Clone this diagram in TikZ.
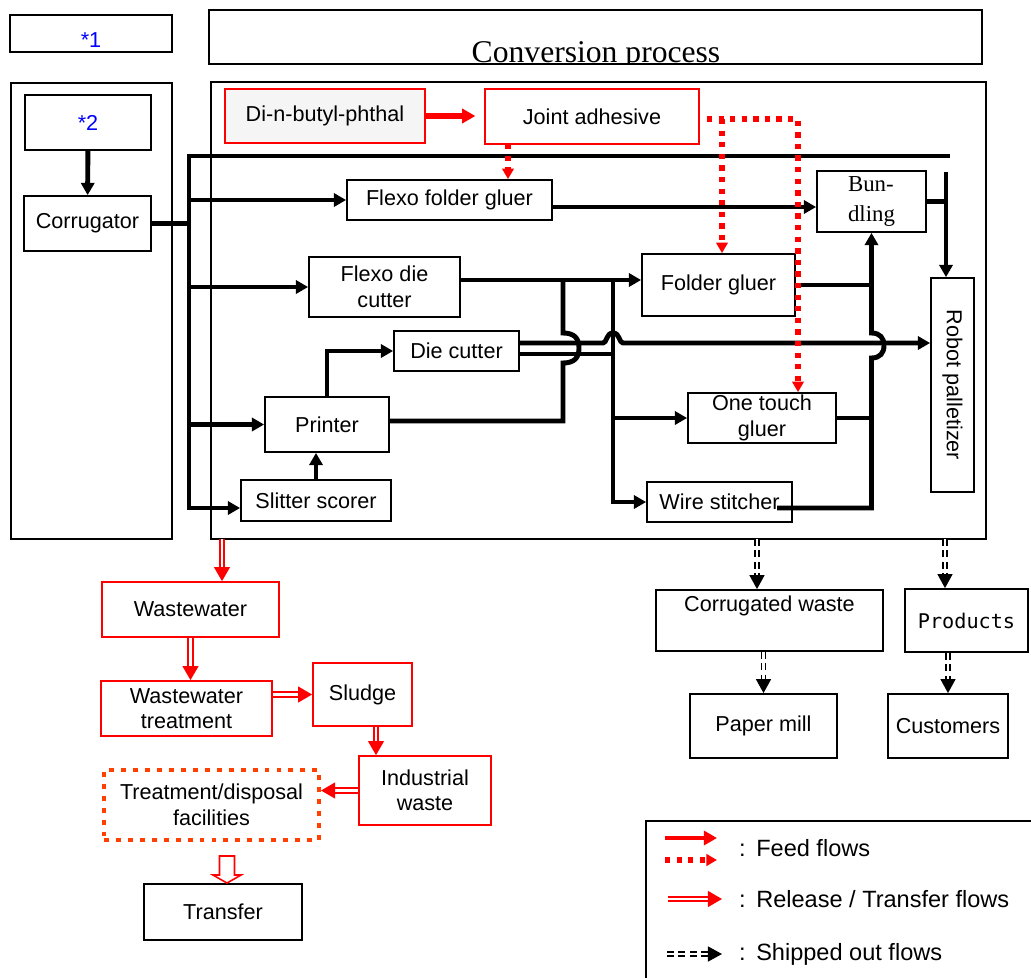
\documentclass[tikz,border=0pt]{standalone}
\usepackage{fontspec}
\setmainfont{Liberation Sans}
\newfontfamily\titlefont{Liberation Serif}
\newfontfamily\prodfont{DejaVu Sans Mono}
\usepackage{graphicx}
\usepackage{xcolor}
\usetikzlibrary{arrows.meta,calc}
\definecolor{flowred}{RGB}{255,0,0}
\definecolor{dotorange}{RGB}{255,64,0}
\definecolor{notegray}{RGB}{245,245,245}
\definecolor{noteblue}{RGB}{0,0,255}

\begin{document}
\begin{tikzpicture}[x=0.02cm, y=-0.02cm,
    sz/.style 2 args={minimum width=#1*0.02cm, minimum height=#2*0.02cm},
    box/.style={draw, line width=1pt, inner sep=0pt, align=center,
        font=\fontsize{12.3}{14.5}\selectfont},
    redbox/.style={box, draw=flowred},
    panel/.style={draw, line width=0.8pt, inner sep=0pt},
    flow/.style={line width=2.8pt},
    flowarrow/.style={flow, -{Triangle[length=7pt, width=7.5pt]}},
    feed/.style={draw=flowred, line width=3.2pt, -{Triangle[length=7.5pt, width=8pt]}},
    feeddot/.style={draw=flowred, line width=3pt, dash pattern=on 3pt off 3.6pt,
        -{Triangle[length=6pt, width=6.5pt]}},
    release/.style={draw=flowred, double=white, double distance=1.5pt, line width=1pt,
        -{Triangle[length=8pt, width=9pt]}},
    shipped/.style={draw=black, double=white, double distance=1.3pt, line width=1pt,
        dash pattern=on 4pt off 2.5pt, -{Triangle[length=8pt, width=8.5pt]}}]
\useasboundingbox (0,0) rectangle (1031,977);
\clip (0,0) rectangle (1031,977);

% frames
\node[panel, sz={162}{37}, text height=16pt, font=\fontsize{12.3}{14.5}\selectfont,
    text=noteblue] (note1) at (91,33.5) {*1};
\node[panel, sz={773}{54}] (title) at (595.5,37) {};
\begin{scope}
    \clip (title.south west) rectangle (title.north east);
    \node[anchor=base, font=\titlefont\fontsize{18}{20}\selectfont] (titletext)
        at (596,62) {Conversion process};
\end{scope}
\node[panel, sz={161}{456}] (supply) at (91.5,311) {};
\node[panel, sz={775}{457}] (conv) at (598.5,310.5) {};

% process boxes
\node[box, sz={126}{55}, text=noteblue] (note2) at (88,122.5) {*2};
\node[box, sz={127}{55}] (corr) at (87.5,223.5) {Corrugator};
\node[redbox, fill=notegray, sz={200}{54}, line width=0.8pt] (dbp) at (325,116) {Di-n-butyl-phthal};
\node[redbox, sz={214}{55}] (joint) at (592,116.5) {Joint adhesive};
\node[box, sz={205}{40}] (ffg) at (449.5,200) {Flexo folder gluer};
\node[box, sz={151}{60}] (fdc) at (384.5,287) {Flexo die\\cutter};
\node[box, sz={125}{40}] (dc) at (456.5,351) {Die cutter};
\node[box, sz={124}{55}] (printer) at (327,424.5) {Printer};
\node[box, sz={150}{41}] (slitter) at (316,500.5) {Slitter scorer};
\node[box, sz={153}{62}] (fg) at (718.5,285) {Folder gluer};
\node[box, sz={109}{61}, align=left, font=\titlefont\fontsize{13}{17}\selectfont] (bund)
    at (871.5,201.5) {Bun-\\dling};
\node[box, sz={148}{50}] (otg) at (762,418) {One touch\\gluer};
\node[box, sz={145}{40}] (ws) at (719.5,502) {Wire stitcher};
\node[box, sz={43}{214}] (robot) at (952.5,385) {\rotatebox{-90}{Robot palletizer}};

% outputs
\node[redbox, sz={177}{55}] (ww) at (190.5,609.5) {Wastewater};
\node[redbox, sz={171}{55}] (wwt) at (186.5,708.5) {Wastewater\\treatment};
\node[redbox, sz={99}{63}] (sludge) at (362.5,694.5) {Sludge};
\node[redbox, sz={132}{69}] (indw) at (425,790.5) {Industrial\\waste};
\node[box, draw=dotorange, line width=2.3pt, dash pattern=on 2.8pt off 4pt, sz={215}{70}]
    (tdf) at (211.5,805) {Treatment/disposal\\facilities};
\node[box, sz={158}{56}] (transfer) at (223,912) {Transfer};
\node[box, sz={227}{61}] (cw) at (769.5,620.5) {Corrugated waste\\\strut};
\node[box, sz={147}{64}] (mill) at (763.5,726) {Paper mill};
\node[box, sz={123}{63}, font=\prodfont\fontsize{11.5}{14}\selectfont] (products)
    at (966.5,620.5) {Products};
\node[box, sz={120}{64}] (customers) at (948,726) {Customers};
\node[panel, line width=1pt, sz={400}{170}, anchor=north west] (legend) at (645,820) {};

% junctions
\coordinate (busTop) at (189,156);
\coordinate (busEnd) at (950,156);
\coordinate (busBot) at (189,508);
\coordinate (jA) at (563,280);
\coordinate (jB) at (613,280);
\coordinate (jC) at (871.5,508);
\coordinate (jD) at (946,172);
\coordinate (prOut) at (389,421);
\coordinate (fdcOut) at (460,280);
\coordinate (ffgOut) at (552,207);
\coordinate (dcHi) at (519,343);
\coordinate (dcLo) at (519,354);
\coordinate (wsOut) at (777,508);

% board flows
\draw[flowarrow] (note2) -- (corr);
\draw[flow] (corr.east) -- (corr.east -| busTop);
\draw[flowarrow] (busEnd) -- (busTop) -- (busBot) -- (busBot -| slitter.west);
\foreach \stage in {ffg,fdc,printer}
    \draw[flowarrow] (busTop |- \stage.west) -- (\stage.west);
\draw[flowarrow] (slitter.north) -- (slitter.north |- printer.south);
\draw[flowarrow] (printer.north) |- (dc.west);
\draw[flowarrow] (fdcOut) -- (fdcOut -| fg.west);
\draw[flowarrow] (ffgOut) -- (ffgOut -| bund.west);
\draw[flow] (prOut) -- (prOut -| jA) -- (563,363) .. controls (574,363) and (579,358) .. (579,348)
    .. controls (579,338) and (574,333) .. (563,333) -- (jA);
\draw[flowarrow] (dcHi) -- (603,343) .. controls (607,343) and (606,333) .. (613,333)
    .. controls (620,333) and (619,343) .. (623,343) -- (dcHi -| robot.west);
\draw[flow] (dcLo) -- (dcLo -| jB);
\draw[flowarrow] (jB) |- (ws.west);
\draw[flowarrow] (jB |- otg.west) -- (otg.west);
\draw[flow] (fg.east) -- (fg.east -| jC);
\draw[flow] (otg.east) -- (otg.east -| jC);
\draw[flowarrow] (wsOut) -- (jC) -- (871.5,358) .. controls (880,358) and (884,353) .. (884,345.5)
    .. controls (884,338) and (880,333) .. (871.5,333) -- (bund.south);
\draw[flow] (bund.east) -- (bund.east -| jD);
\draw[flowarrow] (jD) -- (jD |- robot.north);

% adhesive feed
\coordinate (adhDrop) at (508,144);
\coordinate (adhBranch) at (722,119);
\coordinate (adhTurn) at (798,119);
\draw[feed, shorten >=5pt] (dbp.east) -- (dbp.east -| joint.west);
\draw[feeddot] (adhDrop) -- (adhDrop |- ffg.north);
\draw[feeddot, shorten <=4pt] (joint.east |- adhTurn) -- (adhTurn) -- (adhTurn |- otg.north);
\draw[feeddot] (adhBranch) -- (adhBranch |- fg.north);

% releases and transfers
\coordinate (relOut) at (222,539);
\path (sludge.south) ++(13.5,0) coordinate (sludgeOut);
\draw[release] (relOut) -- (relOut |- ww.north);
\draw[release] (ww.south) -- (ww.south |- wwt.north);
\draw[release] (sludge.west -| wwt.east) -- (sludge.west);
\draw[release] (sludgeOut) -- (sludgeOut |- indw.north);
\draw[release] (indw.west) -- (indw.west -| tdf.east);
\path (tdf.south) ++(15.5,14) coordinate (hollowTop);
\draw[flowred, line width=0.9pt, fill=white] (hollowTop) ++(-7.5,0) -- ++(0,19) -- ++(-6.5,0)
    -- ++(14,8) -- ++(14,-8) -- ++(-6.5,0) -- ++(0,-19) -- cycle;

% shipped out
\coordinate (cwIn) at (757,539);
\coordinate (prodIn) at (945,539);
\draw[shipped] (cwIn) -- (cwIn |- cw.north);
\draw[shipped] (mill.north |- cw.south) -- (mill.north);
\draw[shipped] (prodIn) -- (prodIn |- products.north);
\draw[shipped] (customers.north |- products.south) -- (customers.north);

% legend
\coordinate (keyFeed) at (665,838);
\coordinate (keyDot) at (665,860);
\coordinate (keyRel) at (668,899);
\coordinate (keyShip) at (667,954);
\draw[feed, line width=2.6pt] (keyFeed) -- ++(52,0);
\draw[feeddot] (keyDot) -- ++(52,0);
\draw[release] (keyRel) -- ++(54,0);
\draw[shipped] (keyShip) -- ++(55,0);
\node[anchor=west, font=\fontsize{13.4}{16}\selectfont] (keyFeedText) at (733,848) {:\hspace{6pt}Feed flows};
\node[anchor=west, font=\fontsize{13.4}{16}\selectfont] (keyRelText) at (733,899) {:\hspace{6pt}Release / Transfer flows};
\node[anchor=west, font=\fontsize{13.4}{16}\selectfont] (keyShipText) at (733,954) {:\hspace{6pt}Shipped out flows};
\end{tikzpicture}
\end{document}
